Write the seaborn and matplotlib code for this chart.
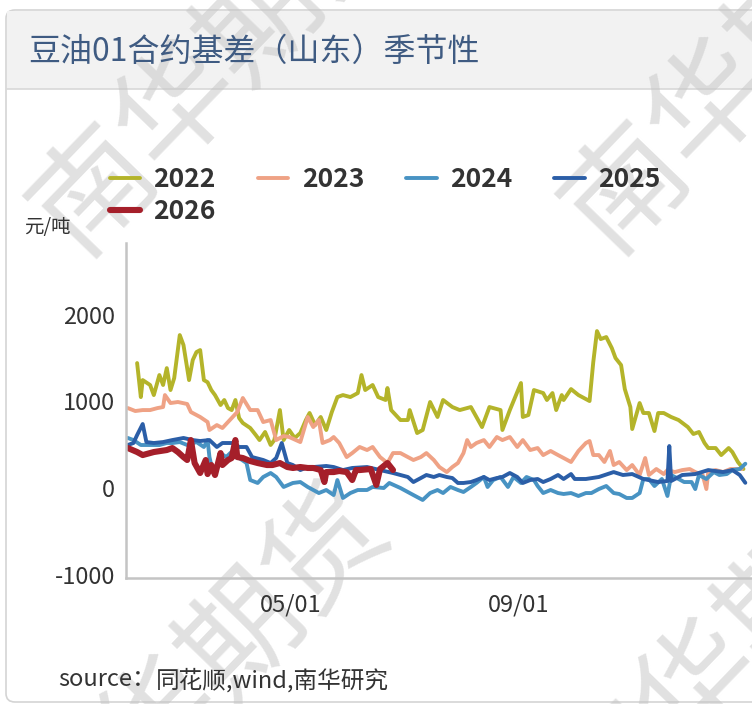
import pandas as pd
import matplotlib
matplotlib.use("Agg")
import matplotlib.pyplot as plt
import matplotlib.dates as mdates
from matplotlib.patches import FancyBboxPatch, Rectangle
import seaborn as sns

# season axis: days counted from 02/01, values in yuan/ton
day_2022 = [6, 8, 9, 13, 15, 18, 20, 22, 24, 26, 29, 31, 34, 36, 38, 40, 42, 44, 46, 48, 51, 53, 55, 57, 59, 61,
            63, 67, 70, 72, 75, 78, 80, 83, 85, 88, 91, 94, 97, 99, 102, 105, 108, 111, 114, 117, 121, 125, 127,
            129, 133, 136, 140, 141, 143, 148, 152, 153, 157, 160, 164, 168, 171, 176, 180, 186, 192, 196, 202,
            203, 207, 213, 214, 217, 220, 225, 227, 230, 232, 235, 236, 240, 244, 250, 252, 254, 256, 259, 262,
            264, 267, 269, 272, 273, 277, 279, 282, 285, 287, 290, 294, 298, 303, 306, 309, 312, 314, 318, 321,
            325, 327, 330, 333]
val_2022 = [1441, 1049, 1245, 1188, 1072, 1303, 1188, 1383, 1130, 1268, 1764, 1649, 1245, 1476, 1568, 1591,
            1245, 1220, 1130, 1072, 957, 1015, 922, 899, 1015, 807, 750, 692, 611, 553, 646, 496, 553, 899, 553,
            669, 577, 634, 784, 865, 726, 819, 669, 876, 1049, 1072, 1049, 1095, 1303, 1130, 1188, 1049, 1015,
            1153, 899, 784, 784, 899, 634, 669, 992, 819, 1015, 934, 899, 934, 703, 934, 899, 669, 899, 1211,
            819, 842, 1130, 1095, 1015, 1095, 899, 1072, 1015, 1141, 1072, 1003, 1453, 1810, 1718, 1741, 1614,
            1499, 1418, 1141, 934, 680, 980, 865, 865, 657, 865, 865, 819, 784, 703, 623, 646, 519, 461, 461,
            380, 461, 415, 300, 219]

day_2023 = [1, 5, 9, 13, 17, 20, 21, 24, 28, 33, 35, 40, 44, 45, 49, 52, 56, 60, 63, 67, 71, 74, 78, 81, 85, 88,
            94, 98, 101, 104, 106, 110, 112, 115, 119, 122, 126, 130, 133, 137, 141, 144, 148, 152, 155, 159,
            162, 166, 169, 173, 176, 179, 182, 184, 186, 189, 193, 196, 200, 203, 207, 211, 214, 218, 222, 225,
            229, 233, 236, 240, 244, 248, 250, 252, 255, 258, 261, 263, 266, 270, 273, 277, 280, 282, 286, 290,
            292, 296, 300, 304, 307, 311, 313, 314, 318, 322, 326, 330, 332]
val_2023 = [922, 888, 899, 899, 922, 934, 1072, 980, 992, 969, 876, 819, 761, 669, 726, 692, 784, 876, 1038,
            899, 899, 761, 784, 553, 600, 588, 530, 819, 703, 784, 519, 553, 588, 519, 357, 403, 473, 438, 473,
            357, 288, 403, 403, 357, 323, 357, 403, 323, 242, 184, 242, 288, 403, 553, 473, 519, 553, 473, 588,
            553, 588, 473, 553, 438, 461, 380, 427, 380, 346, 300, 427, 519, 542, 380, 380, 300, 427, 265, 300,
            207, 265, 150, 346, 150, 219, 161, 207, 184, 207, 219, 184, 150, -12, 184, 207, 184, 219, 219, 219]

day_2024 = [1, 4, 8, 13, 18, 22, 25, 29, 33, 38, 42, 44, 45, 47, 49, 51, 54, 58, 61, 65, 67, 71, 74, 78, 81, 85,
            90, 94, 98, 101, 104, 108, 112, 114, 117, 121, 125, 130, 133, 139, 142, 148, 153, 157, 160, 164, 168,
            171, 175, 179, 182, 186, 189, 193, 195, 198, 202, 206, 209, 213, 216, 220, 222, 225, 229, 233, 236,
            240, 244, 248, 251, 255, 259, 263, 266, 270, 273, 277, 279, 282, 285, 289, 292, 294, 298, 301, 305,
            307, 309, 313, 317, 320, 324, 327, 331, 334]
val_2024 = [577, 553, 496, 496, 496, 519, 519, 530, 496, 530, 473, 553, 357, 173, 207, 403, 357, 438, 346, 288,
            92, 58, 127, 173, 127, 12, 58, 69, 12, -23, -58, -23, -81, 92, -115, -58, -23, -23, 12, 0, 58, 0,
            -58, -104, -138, -58, -23, -58, 12, -23, -46, 12, 58, 127, 12, 92, 127, 12, 127, 58, 127, 92, 23,
            -58, -23, -58, -69, -58, -92, -58, -58, -12, 23, -58, -69, -115, -115, -58, 104, 104, 23, 104, -92,
            150, 104, 69, 69, -12, 150, 104, 184, 150, 161, 207, 219, 280]

day_2025 = [1, 4, 6, 9, 11, 15, 20, 25, 31, 36, 40, 45, 49, 52, 58, 61, 65, 68, 74, 78, 81, 84, 87, 90, 94, 98,
            101, 108, 112, 117, 122, 130, 137, 144, 148, 152, 155, 159, 162, 166, 169, 173, 176, 179, 182, 186,
            189, 193, 196, 200, 203, 207, 211, 214, 218, 222, 225, 229, 233, 236, 240, 242, 248, 255, 263, 268,
            273, 279, 287, 292, 293, 294, 300, 307, 314, 322, 327, 331, 334]
val_2025 = [496, 519, 611, 738, 530, 519, 530, 553, 577, 553, 542, 553, 473, 519, 519, 473, 473, 357, 323, 288,
            346, 519, 288, 265, 207, 242, 242, 254, 242, 207, 231, 242, 207, 173, 150, 127, 69, 115, 150, 127,
            150, 127, 115, 58, 58, 69, 92, 127, 92, 115, 127, 173, 127, 58, 92, 104, 69, 104, 150, 104, 161,
            104, 104, 127, 184, 150, 161, 104, 69, 81, 484, 81, 150, 161, 207, 184, 207, 150, 60]

day_2026 = [1, 6, 9, 15, 22, 25, 28, 31, 33, 35, 37, 40, 43, 44, 46, 48, 51, 52, 55, 57, 59, 60, 63, 67, 71, 76,
            79, 83, 87, 90, 94, 98, 101, 105, 107, 108, 112, 115, 119, 122, 124, 126, 132, 135, 137, 141, 144]
val_2026 = [461, 415, 380, 415, 438, 461, 415, 357, 323, 553, 288, 173, 323, 161, 265, 150, 403, 265, 323, 346,
            553, 357, 346, 311, 288, 265, 265, 288, 242, 231, 242, 231, 231, 207, 69, 184, 184, 196, 184, 92,
            207, 207, 219, 35, 219, 288, 207]

years = ["2022", "2023", "2024", "2025", "2026"]
day_lists = [day_2022, day_2023, day_2024, day_2025, day_2026]
val_lists = [val_2022, val_2023, val_2024, val_2025, val_2026]
colors = {"2022": "#b4b42a", "2023": "#efa285", "2024": "#4893c3", "2025": "#2b5ea7", "2026": "#a51f2a"}
widths = {"2022": 2.8, "2023": 2.8, "2024": 2.8, "2025": 2.8, "2026": 4.4}

base = pd.Timestamp("2021-02-01")
frames = []
for yr, d, v in zip(years, day_lists, val_lists):
    frames.append(pd.DataFrame({"date": base + pd.to_timedelta(d, unit="D"), "basis": v, "year": yr}))
df = pd.concat(frames, ignore_index=True)

sns.set_style("white")
plt.rcParams["font.family"] = ["Noto Sans CJK SC", "DejaVu Sans"]
plt.rcParams["axes.unicode_minus"] = False

W, H = 752, 704
fig = plt.figure(figsize=(W / 100, H / 100), dpi=100)


def fx(px):
    return px / W


def fy(py):
    return 1 - py / H


# panel frame and title bar
fig.add_artist(FancyBboxPatch((fx(6), fy(702)), 1.2, fy(10) - fy(702), boxstyle="round,pad=0,rounding_size=0.012",
                              transform=fig.transFigure, facecolor="white", edgecolor="#d4d4d4", lw=1.2, zorder=0))
fig.add_artist(Rectangle((fx(7), fy(89)), 1.2, fy(11) - fy(89), transform=fig.transFigure,
                         facecolor="#f2f2f2", edgecolor="none", zorder=0.1))
fig.add_artist(plt.Line2D([fx(7), 1], [fy(89), fy(89)], transform=fig.transFigure, color="#d8d8d8", lw=1.2,
                          zorder=0.2))

# watermark
for cx, cy in [(220, 62), (752, 60), (202, 677), (741, 640)]:
    fig.text(fx(cx), fy(cy), "南华期货", fontsize=86, rotation=46, color="#c4c4c4", alpha=0.5,
             ha="center", va="center", rotation_mode="anchor", zorder=0.5)

ax = fig.add_axes([fx(126), fy(578), 1 - fx(126), fy(243) - fy(578)])
ax.set_facecolor("none")
ax.set_zorder(2)

for yr in years:
    sns.lineplot(data=df[df["year"] == yr], x="date", y="basis", color=colors[yr], lw=widths[yr],
                 label=yr, estimator=None, sort=False, ax=ax)

ax.set_xlim(base, base + pd.Timedelta(days=337.6))
ax.set_ylim(-1038, 2826)
ax.set_yticks([-1000, 0, 1000, 2000])
ax.xaxis.set_major_locator(mdates.MonthLocator(bymonth=[5, 9]))
ax.xaxis.set_major_formatter(mdates.DateFormatter("%m/%d"))
ax.set_xlabel("")
ax.set_ylabel("")
for side in ["top", "right"]:
    ax.spines[side].set_visible(False)
for side in ["left", "bottom"]:
    ax.spines[side].set_color("#c4c4c4")
    ax.spines[side].set_linewidth(1.8)
ax.tick_params(axis="both", direction="in", length=8, width=1.5, color="#c4c4c4", labelsize=17,
               labelcolor="#333333")
ax.tick_params(axis="x", pad=11)
ax.tick_params(axis="y", pad=8)

# legend fills column by column, so order it to read 2022..2025 on row one, 2026 below
handles, labels = ax.get_legend_handles_labels()
order = [0, 4, 1, 2, 3]
ax.legend([handles[i] for i in order], [labels[i] for i in order], ncol=4, loc="upper left",
          bbox_to_anchor=(fx(110), fy(166)), bbox_transform=fig.transFigure, frameon=False,
          handlelength=1.15, handletextpad=0.5, columnspacing=1.6, labelspacing=0.2, borderpad=0,
          borderaxespad=0, prop={"weight": "bold", "size": 19})
for t in ax.get_legend().get_texts():
    t.set_color("#333333")

fig.text(fx(28), fy(52), "豆油01合约基差（山东）季节性", fontsize=23, color="#3f5b82",
         ha="left", va="center", zorder=3)
fig.text(fx(24), fy(228), "元/吨", fontsize=14, color="#333333", ha="left", va="center", zorder=3)

src = fig.text(fx(58), fy(680), "source：", fontsize=17, color="#333333", ha="left", va="center", zorder=3)
fig.canvas.draw()
bb = src.get_window_extent()
fig.text(bb.x1 / W, fy(680), "同花顺,wind,南华研究", fontsize=17, color="#333333", fontstyle="italic",
         ha="left", va="center", zorder=3)

fig.savefig("out.png", dpi=100)
